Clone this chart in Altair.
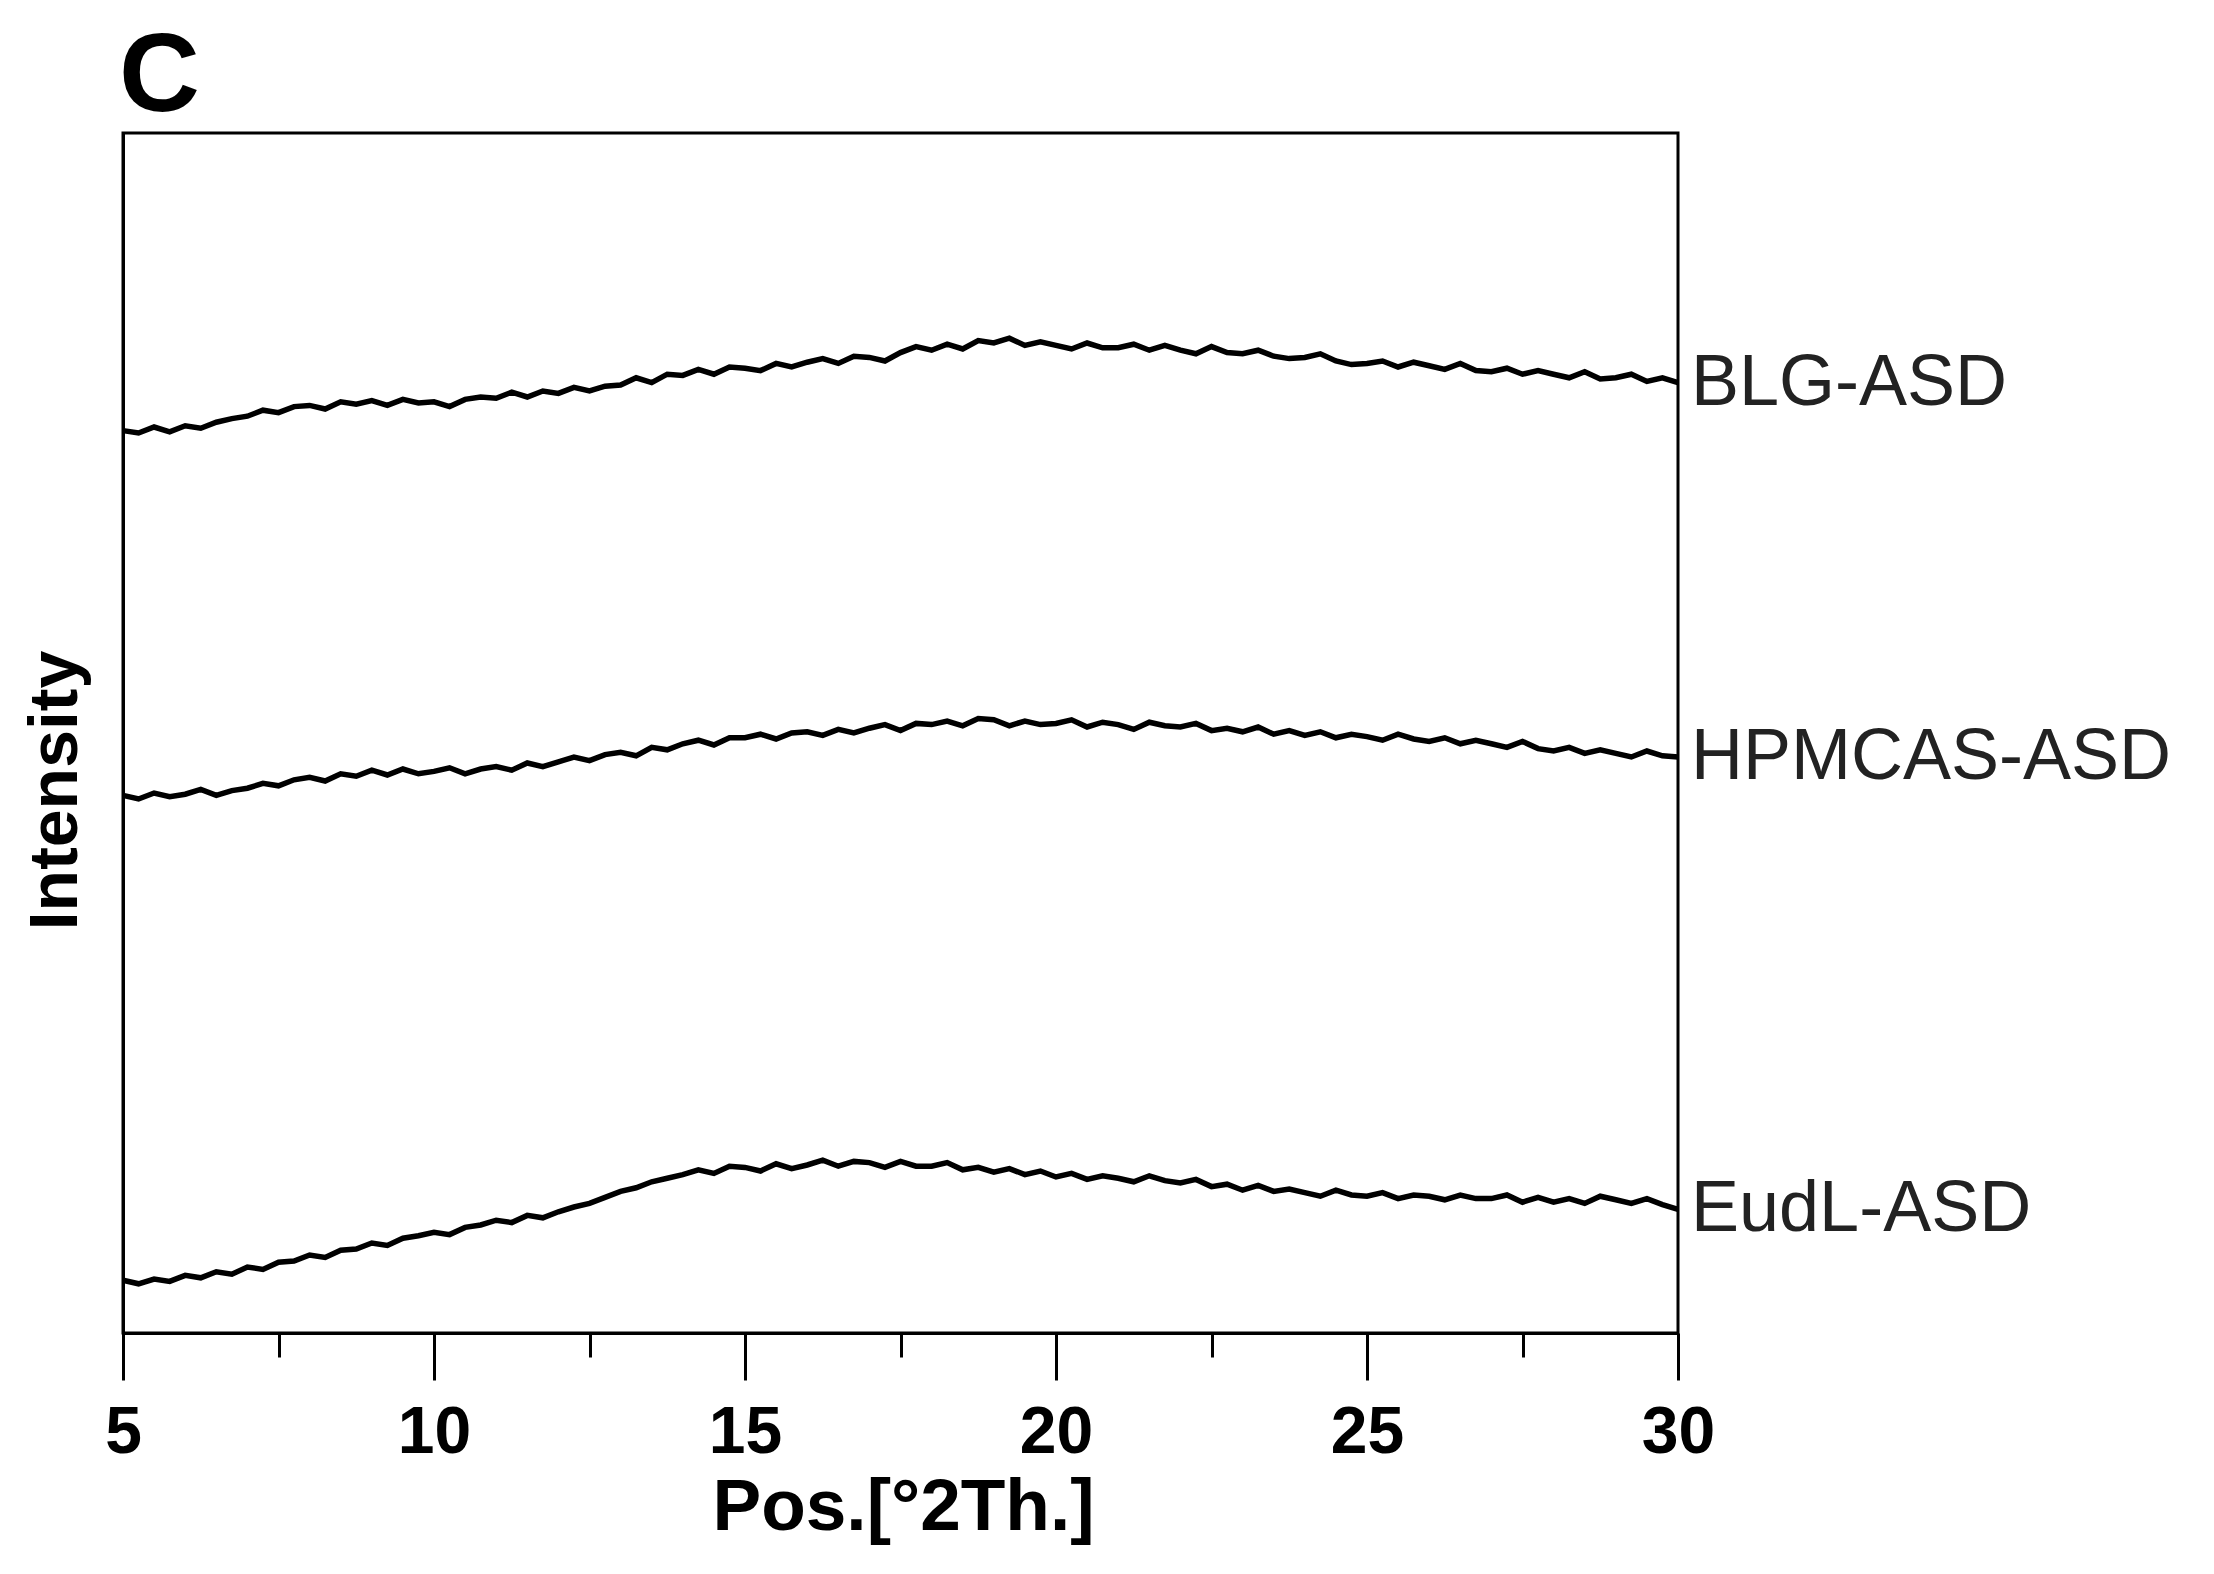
import altair as alt
import pandas as pd

# Diffraction angle grid (°2Theta), 0.25° steps from 5 to 30
ANGLES = [round(5 + 0.25 * i, 2) for i in range(101)]

SERIES = ["BLG-ASD", "HPMCAS-ASD", "EudL-ASD"]

# Intensities (arbitrary, stacked offsets)
BLG = [
    75.2, 75.0, 75.5, 75.1,
    75.6, 75.4, 75.9, 76.2,
    76.4, 76.9, 76.7, 77.2,
    77.3, 77.0, 77.6, 77.4,
    77.7, 77.3, 77.8, 77.5,
    77.6, 77.2, 77.8, 78.0,
    77.9, 78.4, 78.0, 78.5,
    78.3, 78.8, 78.5, 78.9,
    79.0, 79.6, 79.2, 79.9,
    79.8, 80.3, 79.9, 80.5,
    80.4, 80.2, 80.8, 80.5,
    80.9, 81.2, 80.8, 81.4,
    81.3, 81.0, 81.7, 82.2,
    81.9, 82.4, 82.0, 82.7,
    82.5, 82.9, 82.3, 82.6,
    82.3, 82.0, 82.5, 82.1,
    82.1, 82.4, 81.9, 82.3,
    81.9, 81.6, 82.2, 81.7,
    81.6, 81.9, 81.4, 81.2,
    81.3, 81.6, 81.0, 80.7,
    80.8, 81.0, 80.5, 80.9,
    80.6, 80.3, 80.8, 80.2,
    80.1, 80.4, 79.9, 80.2,
    79.9, 79.6, 80.1, 79.5,
    79.6, 79.9, 79.3, 79.6,
    79.2,
]

HPMCAS = [
    44.8, 44.5, 45.0, 44.7,
    44.9, 45.3, 44.8, 45.2,
    45.4, 45.8, 45.6, 46.1,
    46.3, 46.0, 46.6, 46.4,
    46.9, 46.5, 47.0, 46.6,
    46.8, 47.1, 46.6, 47.0,
    47.2, 46.9, 47.5, 47.2,
    47.6, 48.0, 47.7, 48.2,
    48.4, 48.1, 48.8, 48.6,
    49.1, 49.4, 49.0, 49.6,
    49.6, 49.9, 49.5, 50.0,
    50.1, 49.8, 50.3, 50.0,
    50.4, 50.7, 50.2, 50.8,
    50.7, 51.0, 50.6, 51.2,
    51.1, 50.6, 51.0, 50.7,
    50.8, 51.1, 50.5, 50.9,
    50.7, 50.3, 50.9, 50.6,
    50.5, 50.8, 50.2, 50.4,
    50.1, 50.5, 49.9, 50.2,
    49.8, 50.1, 49.6, 49.9,
    49.7, 49.4, 49.9, 49.5,
    49.3, 49.6, 49.1, 49.4,
    49.1, 48.8, 49.3, 48.7,
    48.5, 48.8, 48.3, 48.6,
    48.3, 48.0, 48.5, 48.1,
    48.0,
]

EUDL = [
    4.4, 4.1, 4.5, 4.3,
    4.8, 4.6, 5.1, 4.9,
    5.5, 5.3, 5.9, 6.0,
    6.5, 6.3, 6.9, 7.0,
    7.5, 7.3, 7.9, 8.1,
    8.4, 8.2, 8.8, 9.0,
    9.4, 9.2, 9.8, 9.6,
    10.1, 10.5, 10.8, 11.3,
    11.8, 12.1, 12.6, 12.9,
    13.2, 13.6, 13.3, 13.9,
    13.8, 13.5, 14.1, 13.7,
    14.0, 14.4, 13.9, 14.3,
    14.2, 13.8, 14.3, 13.9,
    13.9, 14.2, 13.6, 13.8,
    13.4, 13.7, 13.2, 13.5,
    13.0, 13.3, 12.8, 13.1,
    12.9, 12.6, 13.1, 12.7,
    12.5, 12.8, 12.2, 12.4,
    11.9, 12.3, 11.8, 12.0,
    11.7, 11.4, 11.9, 11.5,
    11.4, 11.7, 11.2, 11.5,
    11.4, 11.1, 11.5, 11.2,
    11.2, 11.5, 10.9, 11.3,
    10.9, 11.2, 10.8, 11.4,
    11.1, 10.8, 11.2, 10.7,
    10.3,
]

X_TICKS = [5, 7.5, 10, 12.5, 15, 17.5, 20, 22.5, 25, 27.5, 30]

PANEL_LETTER = "C"

FONT = "Liberation Sans"

rows = []
for name, vals in zip(SERIES, [BLG, HPMCAS, EUDL]):
    for a, v in zip(ANGLES, vals):
        rows.append({"angle": a, "intensity": v, "sample": name})
df = pd.DataFrame(rows)

labels_df = pd.DataFrame({
    "sample": SERIES,
    "angle": [ANGLES[-1]] * 3,
    "intensity": [BLG[-1], HPMCAS[-1], EUDL[-1]],
})

x_scale = alt.Scale(domain=[5, 30], nice=False, zero=False)
y_scale = alt.Scale(domain=[0, 100], nice=False, zero=False)

x_axis = alt.Axis(
    values=X_TICKS,
    title="Pos.[°2Th.]",
    labelExpr="datum.value % 5 === 0 ? format(datum.value, 'd') : ''",
    tickSize={"condition": {"test": "datum.value % 5 === 0", "value": 47}, "value": 24},
    tickWidth=3,
    tickColor="black",
    labelFont=FONT,
    labelFontSize=66,
    labelFontWeight="bold",
    labelColor="black",
    labelPadding=20,
    labelFlush=False,
    titleFont=FONT,
    titleFontSize=73,
    titleFontWeight="bold",
    titleColor="black",
    titlePadding=6,
    titleX=780,
    domainColor="black",
    domainWidth=3,
    grid=False,
)

y_axis = alt.Axis(
    title="Intensity",
    ticks=False,
    labels=False,
    grid=False,
    domainColor="black",
    domainWidth=3,
    titleFont=FONT,
    titleFontSize=68,
    titleFontWeight="bold",
    titleColor="black",
    titlePadding=33,
    titleY=657,
)

lines = alt.Chart(df).mark_line(color="black", strokeWidth=5.5, strokeJoin="miter").encode(
    x=alt.X("angle:Q", scale=x_scale, axis=x_axis),
    y=alt.Y("intensity:Q", scale=y_scale, axis=y_axis),
    detail="sample:N",
)

texts = alt.Chart(labels_df).mark_text(
    align="left", baseline="middle", dx=13, fontSize=72, font=FONT, color="#222222"
).encode(
    x=alt.X("angle:Q", scale=x_scale),
    y=alt.Y("intensity:Q", scale=y_scale),
    text="sample:N",
)

letter = alt.Chart(pd.DataFrame({"t": [PANEL_LETTER]})).mark_text(
    align="left", baseline="alphabetic", fontSize=112, fontWeight="bold",
    font=FONT, color="black",
).encode(
    x=alt.value(-4),
    y=alt.value(-22),
    text="t:N",
)

chart = (
    alt.layer(lines, texts, letter)
    .properties(
        width=1555,
        height=1200,
        autosize=alt.AutoSizeParams(type="none"),
        padding={"left": 115, "top": 125, "right": 520, "bottom": 230},
        background="white",
    )
    .configure_view(stroke="black", strokeWidth=3)
)

chart.save("out.html", embed_options={"renderer": "svg", "actions": False})
